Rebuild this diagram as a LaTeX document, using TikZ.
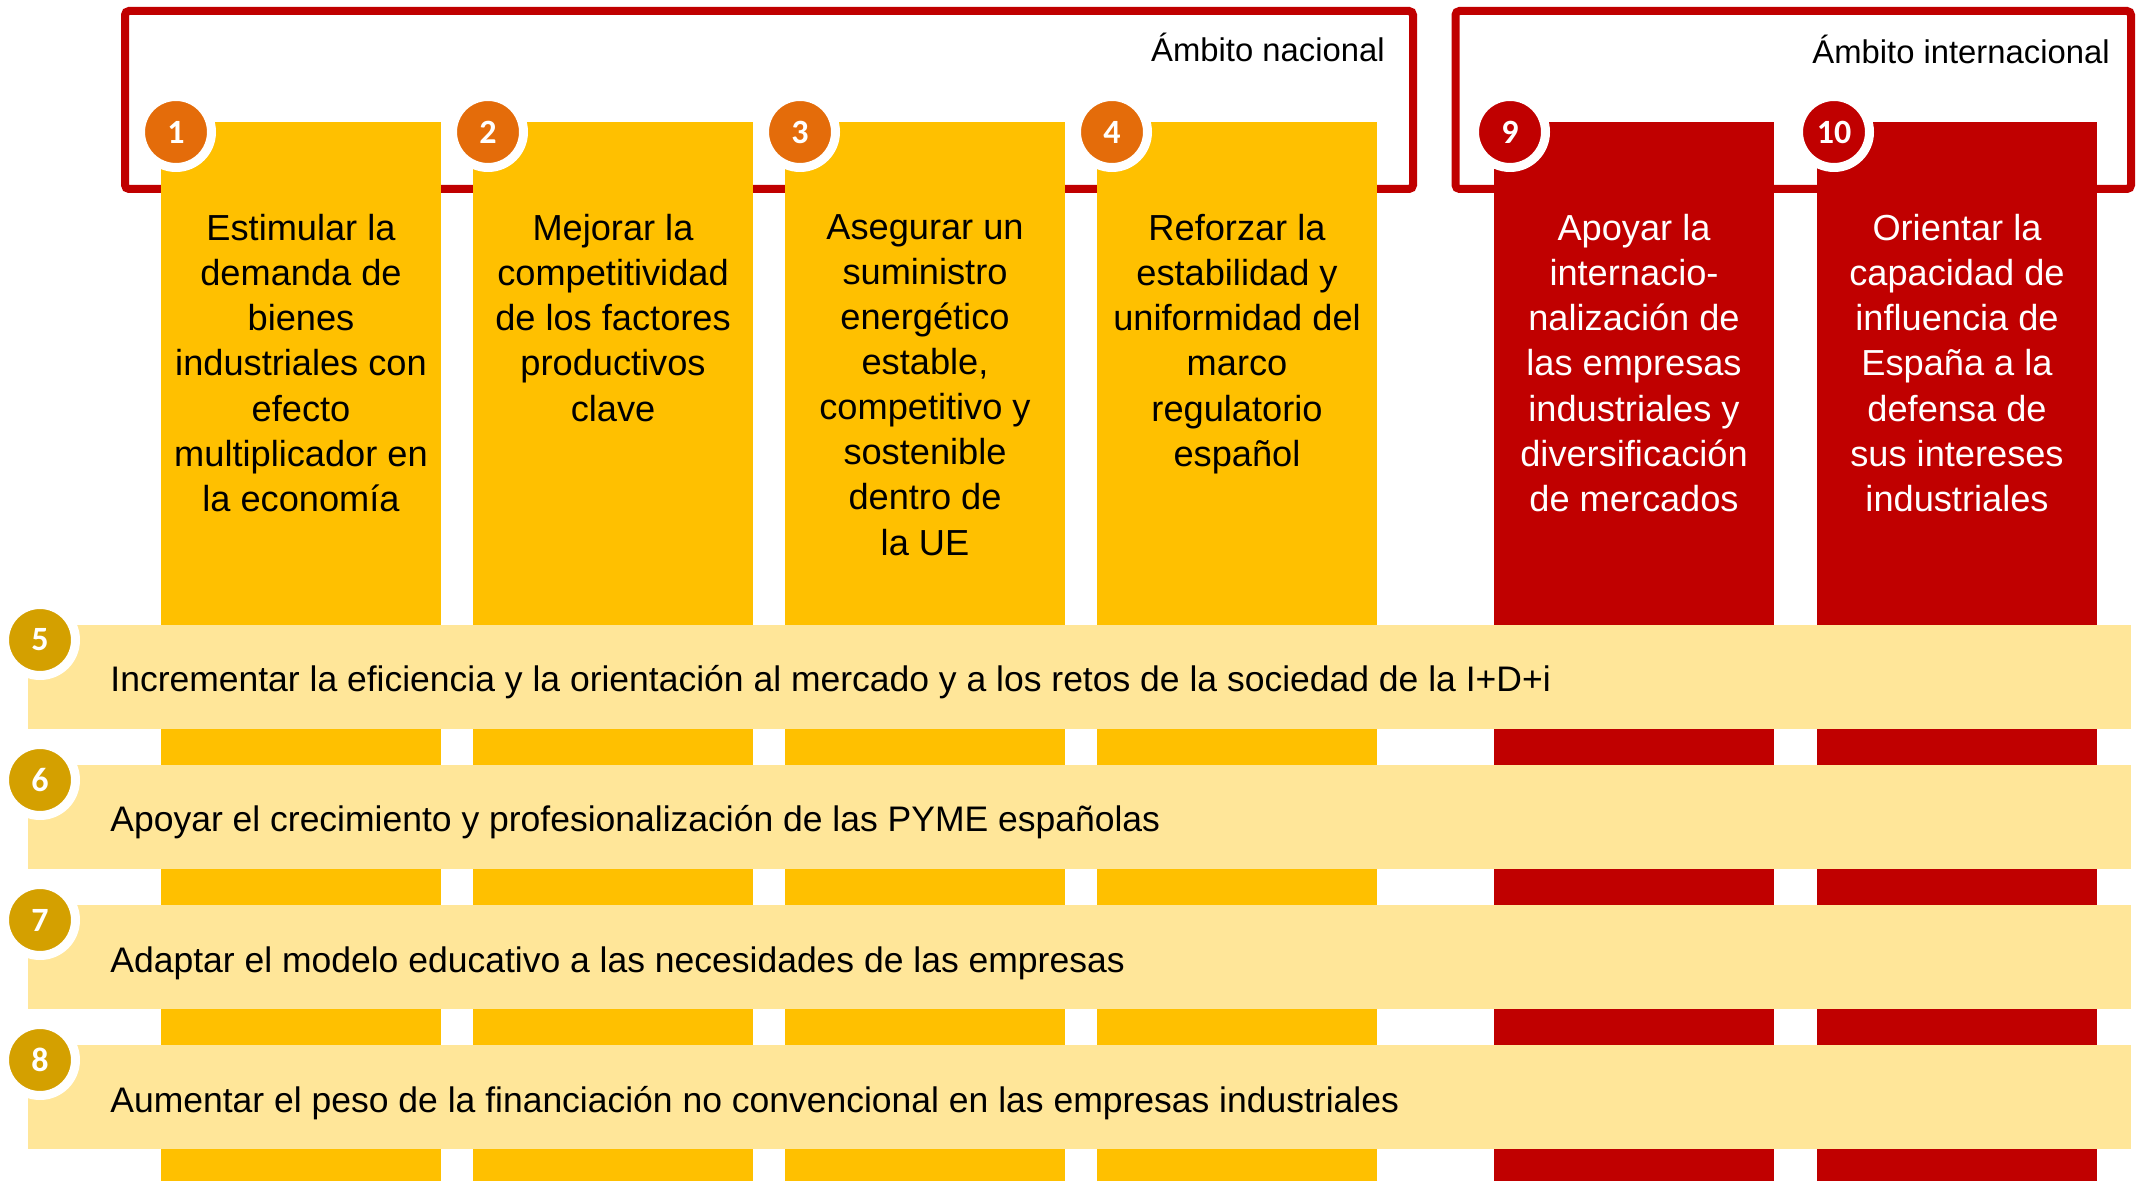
\documentclass[tikz,border=0pt]{standalone}
\usepackage{fontspec}
\setmainfont{Liberation Sans}
\newfontfamily\numfont{Carlito}
\definecolor{ambred}{RGB}{192,0,0}
\definecolor{colgold}{RGB}{255,192,0}
\definecolor{bandyellow}{RGB}{255,230,153}
\definecolor{numorange}{RGB}{228,108,10}
\definecolor{numgold}{RGB}{212,160,0}
\tikzset{
  numcirc/.style={circle, minimum size=35.5pt, inner sep=0pt, draw=white, line width=4.5pt,
    text=white, font=\numfont\bfseries\fontsize{17}{18}\selectfont},
  coltext/.style={anchor=north, align=center, inner sep=0pt, font=\fontsize{18.1}{22.55}\selectfont},
  bandtext/.style={anchor=base west, inner sep=0pt, font=\fontsize{17.75}{21}\selectfont},
  scopetext/.style={anchor=base east, inner sep=0pt, font=\fontsize{16.4}{20}\selectfont}
}
\begin{document}
\begin{tikzpicture}[x=0.5pt,y=-0.5pt]
                        \useasboundingbox (0,0) rectangle (2143,1181);

                        \draw[ambred, line width=4pt, rounded corners=2pt] (125,11) rectangle (1413,189);
                        \draw[ambred, line width=4pt, rounded corners=2pt] (1455.5,11) rectangle (2131,189);
                        \node[scopetext] (nacional) at (1385,62) {Ámbito nacional};
                        \node[scopetext] (internacional) at (2110,64) {Ámbito internacional};

                        \fill[colgold] (161,122) rectangle (441,1181);
                        \fill[colgold] (473,122) rectangle (753,1181);
                        \fill[colgold] (785,122) rectangle (1065,1181);
                        \fill[colgold] (1097,122) rectangle (1377,1181);
                        \fill[ambred] (1494,122) rectangle (1774,1181);
                        \fill[ambred] (1817,122) rectangle (2097,1181);

                        \node[numcirc, fill=numorange] (n1) at (176,132) {1};
                        \node[numcirc, fill=numorange] (n2) at (488,132) {2};
                        \node[numcirc, fill=numorange] (n3) at (800,132) {3};
                        \node[numcirc, fill=numorange] (n4) at (1112,132) {4};
                        \node[numcirc, fill=ambred] (n9) at (1510,132) {9};
                        \node[numcirc, fill=ambred] (n10) at (1834,132) {10};

                        \node[coltext] (t1) at (301,214) {Estimular la\\demanda de\\bienes\\industriales con\\efecto\\multiplicador en\\la economía};
                        \node[coltext] (t2) at (613,214) {Mejorar la\\competitividad\\de los factores\\productivos\\clave};
                        \node[coltext] (t3) at (925,214) {Asegurar un\\suministro\\energético\\estable,\\competitivo y\\sostenible\\dentro de\\la UE};
                        \node[coltext] (t4) at (1237,214) {Reforzar la\\estabilidad y\\uniformidad del\\marco\\regulatorio\\español};
                        \node[coltext, text=white] (t9) at (1634,214) {Apoyar la\\internacio-\\nalización de\\las empresas\\industriales y\\diversificación\\de mercados};
                        \node[coltext, text=white] (t10) at (1957,214) {Orientar la\\capacidad de\\influencia de\\España a la\\defensa de\\sus intereses\\industriales};

                        \fill[bandyellow] (28,625) rectangle (2131,729);
                        \fill[bandyellow] (28,765) rectangle (2131,869);
                        \fill[bandyellow] (28,905) rectangle (2131,1009);
                        \fill[bandyellow] (28,1045) rectangle (2131,1149);

                        \node[numcirc, fill=numgold] (n5) at (40,640) {5};
                        \node[numcirc, fill=numgold] (n6) at (40,780) {6};
                        \node[numcirc, fill=numgold] (n7) at (40,920) {7};
                        \node[numcirc, fill=numgold] (n8) at (40,1060) {8};

                        \node[bandtext] (b5) at (110,692) {Incrementar la eficiencia y la orientación al mercado y a los retos de la sociedad de la I+D+i};
                        \node[bandtext] (b6) at (110,832) {Apoyar el crecimiento y profesionalización de las PYME españolas};
                        \node[bandtext] (b7) at (110,972) {Adaptar el modelo educativo a las necesidades de las empresas};
                        \node[bandtext] (b8) at (110,1112) {Aumentar el peso de la financiación no convencional en las empresas industriales};
                    \end{tikzpicture}
\end{document}
